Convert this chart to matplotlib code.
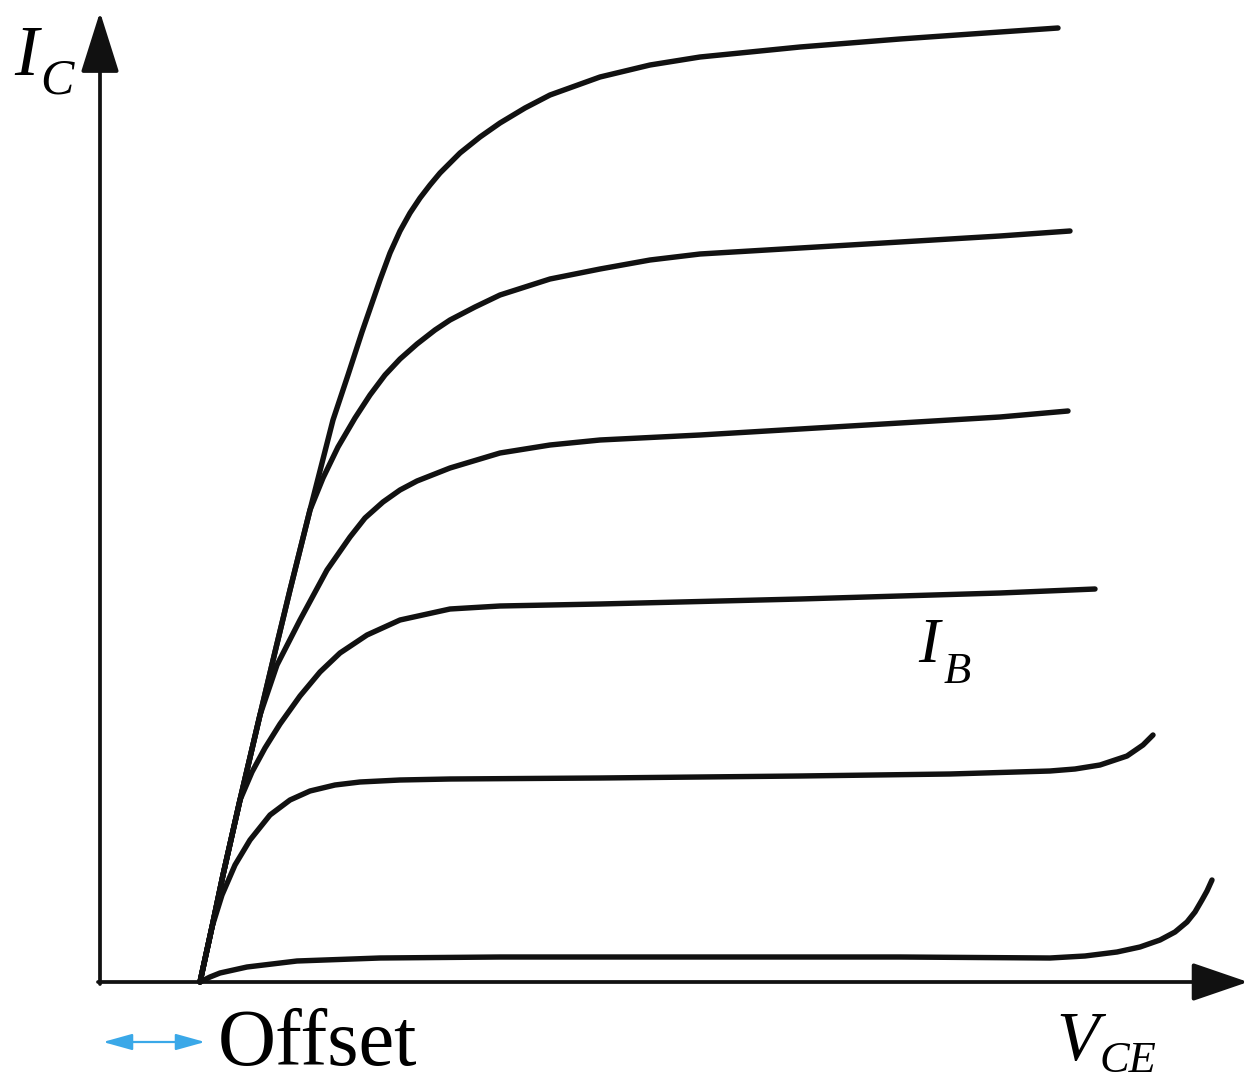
import matplotlib
matplotlib.use("Agg")
import matplotlib.pyplot as plt

# output characteristics, V_CE in V, I_C in mA (one list per base current)
vce_1 = [1.00, 1.12, 1.23, 1.40, 1.60, 1.75, 1.90, 2.10, 2.33, 2.48, 2.62, 2.80, 2.90,
         3.00, 3.10, 3.20, 3.30, 3.40, 3.60, 3.80, 4.00, 4.25, 4.50, 5.00, 5.50, 6.00,
         7.00, 8.00, 9.00, 9.58]
ic_1 = [0.00, 0.55, 1.07, 1.82, 2.67, 3.30, 3.92, 4.72, 5.62, 6.07, 6.50, 7.02, 7.29,
        7.51, 7.69, 7.84, 7.97, 8.09, 8.29, 8.45, 8.59, 8.74, 8.87, 9.05, 9.17, 9.25,
        9.35, 9.43, 9.50, 9.54]

vce_2 = [1.00, 1.12, 1.23, 1.40, 1.60, 1.75, 1.90, 2.10, 2.23, 2.38, 2.55, 2.70, 2.85,
         3.00, 3.17, 3.35, 3.50, 3.75, 4.00, 4.50, 5.00, 5.50, 6.00, 7.00, 8.00, 9.00, 9.70]
ic_2 = [0.00, 0.55, 1.07, 1.82, 2.67, 3.30, 3.92, 4.72, 5.04, 5.35, 5.64, 5.87, 6.07,
        6.23, 6.38, 6.52, 6.62, 6.75, 6.87, 7.03, 7.13, 7.22, 7.28, 7.34, 7.40, 7.46, 7.51]

vce_3 = [1.00, 1.12, 1.23, 1.40, 1.60, 1.77, 2.00, 2.27, 2.50, 2.65, 2.83, 3.00, 3.17,
         3.50, 4.00, 4.50, 5.00, 6.00, 7.00, 8.00, 9.00, 9.68]
ic_3 = [0.00, 0.55, 1.07, 1.82, 2.67, 3.17, 3.62, 4.12, 4.45, 4.64, 4.80, 4.92, 5.01,
        5.14, 5.29, 5.37, 5.42, 5.47, 5.53, 5.59, 5.65, 5.71]

vce_4 = [1.00, 1.12, 1.23, 1.40, 1.52, 1.65, 1.80, 2.00, 2.20, 2.40, 2.67, 3.00, 3.50,
         4.00, 5.00, 7.00, 9.00, 9.95]
ic_4 = [0.00, 0.55, 1.07, 1.82, 2.10, 2.34, 2.58, 2.86, 3.10, 3.29, 3.47, 3.62, 3.73,
        3.76, 3.78, 3.83, 3.89, 3.93]

vce_5 = [1.00, 1.12, 1.22, 1.35, 1.50, 1.70, 1.90, 2.10, 2.35, 2.60, 3.00, 3.50, 5.00,
         7.00, 8.50, 9.50, 9.75, 10.00, 10.27, 10.43, 10.53]
ic_5 = [0.00, 0.55, 0.87, 1.17, 1.42, 1.67, 1.82, 1.91, 1.97, 2.00, 2.02, 2.03, 2.04,
        2.06, 2.08, 2.11, 2.13, 2.17, 2.26, 2.37, 2.47]

vce_6 = [1.00, 1.10, 1.20, 1.47, 1.97, 2.80, 4.00, 6.00, 8.00, 9.50, 9.85, 10.17, 10.40,
         10.60, 10.75, 10.87, 10.95, 11.02, 11.07, 11.12]
ic_6 = [0.00, 0.05, 0.09, 0.15, 0.21, 0.24, 0.25, 0.25, 0.25, 0.24, 0.26, 0.30, 0.35,
        0.42, 0.50, 0.60, 0.70, 0.82, 0.91, 1.02]

curves = [(vce_1, ic_1), (vce_2, ic_2), (vce_3, ic_3),
          (vce_4, ic_4), (vce_5, ic_5), (vce_6, ic_6)]

offset = 1.0  # knee voltage where all curves leave the axis

fig = plt.figure(figsize=(12.5, 10.84), dpi=100)
ax = fig.add_axes([0, 0, 1, 1])
ax.set_xlim(-1.0, 11.5)
ax.set_ylim(-1.02, 9.82)
ax.axis("off")

for v, i in curves:
    ax.plot(v, i, color="#111111", lw=3.9, solid_capstyle="round", solid_joinstyle="round")

# axes with arrow heads
ax.annotate("", xy=(0, 9.70), xytext=(0, -0.02),
            arrowprops=dict(arrowstyle="-|>,head_length=38,head_width=12",
                            mutation_scale=1, lw=2.7, color="#111111",
                            shrinkA=0, shrinkB=0))
ax.annotate("", xy=(11.48, 0), xytext=(-0.02, 0),
            arrowprops=dict(arrowstyle="-|>,head_length=35,head_width=12",
                            mutation_scale=1, lw=2.7, color="#111111",
                            shrinkA=0, shrinkB=0))

serif = "Liberation Serif"
ax.text(-0.86, 9.07, "I", fontsize=52, family=serif, style="italic", ha="left", va="baseline")
ax.text(-0.60, 8.89, "C", fontsize=36, family=serif, style="italic", ha="left", va="baseline")

ax.text(9.56, -0.78, "V", fontsize=50, family=serif, style="italic", ha="left", va="baseline")
ax.text(10.00, -0.90, "CE", fontsize=32, family=serif, style="italic", ha="left", va="baseline")

ax.text(8.18, 3.20, "I", fontsize=46, family=serif, style="italic", ha="left", va="baseline")
ax.text(8.44, 2.99, "B", fontsize=32, family=serif, style="italic", ha="left", va="baseline")

# offset marker below the axis
ax.annotate("", xy=(0.03, -0.60), xytext=(offset + 0.05, -0.60),
            arrowprops=dict(arrowstyle="<|-|>,head_length=18,head_width=5",
                            mutation_scale=1, lw=1.6, color="#3aa8e8",
                            shrinkA=0, shrinkB=0))
ax.text(offset + 0.18, -0.83, "Offset", fontsize=58, family=serif, ha="left", va="baseline")

plt.savefig("out.png", dpi=100)
